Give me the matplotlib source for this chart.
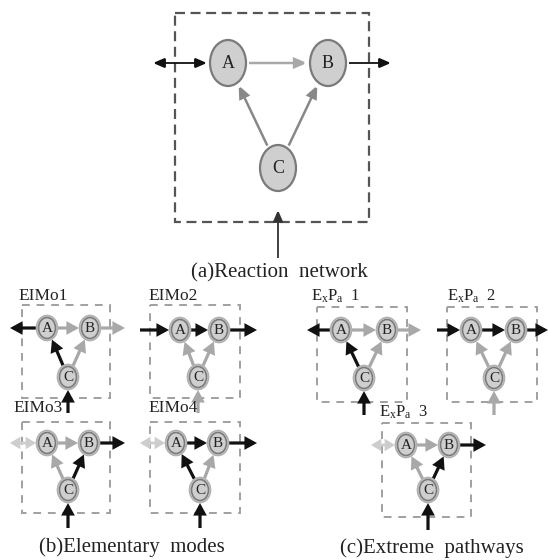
import matplotlib
matplotlib.use('Agg')
import matplotlib.pyplot as plt
from matplotlib.patches import Ellipse, FancyArrowPatch, Rectangle
import numpy as np

plt.rcParams['font.family'] = ['Liberation Serif', 'DejaVu Serif']
plt.rcParams['mathtext.fontset'] = 'custom'
plt.rcParams['mathtext.rm'] = 'Liberation Serif'
plt.rcParams['mathtext.it'] = 'Liberation Serif:italic'

# ---------------- data ----------------
node_names = ['A', 'B', 'C']
captions = ['(a)Reaction  network', '(b)Elementary  modes', '(c)Extreme  pathways']

mode_names = ['EIMo1', 'EIMo2', 'EIMo3', 'EIMo4',
              r'E$_\mathrm{x}$P$_\mathrm{a}$  1',
              r'E$_\mathrm{x}$P$_\mathrm{a}$  2',
              r'E$_\mathrm{x}$P$_\mathrm{a}$  3']
# direction of the exchange flux of A
left_dir = ['out', 'in', 'both', 'both', 'out', 'in', 'both']
# flux state of each reaction: k = active (black), g = inactive (gray), l = light
left_state = ['k', 'k', 'l', 'l', 'k', 'k', 'l']
ab_state = ['g', 'k', 'g', 'k', 'g', 'k', 'g']
right_state = ['g', 'k', 'k', 'k', 'g', 'k', 'k']
ca_state = ['k', 'g', 'g', 'k', 'k', 'g', 'g']
cb_state = ['g', 'g', 'k', 'g', 'g', 'g', 'k']
bottom_state = ['k', 'g', 'k', 'k', 'k', 'g', 'k']

# layout (pixel coordinates)
main_nodes = [(228, 63), (328, 63), (278, 168)]
main_box = (175, 13, 369, 222)
main_left_x, main_right_x, main_bottom_y = 153, 391, 258

small_A = [(47, 328), (180, 330), (47, 443), (176, 443), (341, 330), (471, 330), (406, 445)]
small_B = [(90, 328), (219, 330), (89, 443), (218, 443), (387, 330), (516, 330), (449, 445)]
small_C = [(68, 377), (198, 377), (68, 490), (200, 490), (364, 378), (494, 378), (428, 490)]
small_box = [(22, 305, 110, 398), (150, 305, 240, 398), (22, 422, 110, 513), (150, 422, 240, 513),
             (317, 307, 407, 402), (447, 307, 537, 402), (382, 423, 471, 517)]
small_left_x = [10, 140, 10, 140, 307, 437, 371]
small_right_x = [125, 257, 125, 257, 421, 548, 486]
small_bottom_y = [413, 413, 528, 528, 415, 415, 530]
label_xy = [(18, 296), (148, 296), (13, 408), (148, 408), (311, 296), (447, 296), (379, 412)]
caption_xy = [(279, 273), (132, 547), (432, 548)]

colors = {'k': '#111111', 'g': '#a8a8a8', 'l': '#cdcdcd'}

# ---------------- drawing ----------------
fig = plt.figure(figsize=(5.48, 5.60), dpi=100)
ax = fig.add_axes([0, 0, 1, 1])
ax.set_xlim(0, 548)
ax.set_ylim(560, 0)
ax.axis('off')


def boundary(c, rx, ry, d):
    d = np.asarray(d, float)
    d = d / np.hypot(*d)
    t = 1.0 / np.sqrt((d[0] / rx) ** 2 + (d[1] / ry) ** 2)
    return (c[0] + t * d[0], c[1] + t * d[1])


def arrow(p, q, color, lw, style, ms, z=3):
    a = FancyArrowPatch(p, q, arrowstyle=style, mutation_scale=ms, color=color,
                        lw=lw, shrinkA=0, shrinkB=0, zorder=z, joinstyle='miter',
                        capstyle='butt')
    ax.add_patch(a)


def node(c, rx, ry, name, fs, lw, halo=False):
    if halo:
        ax.add_patch(Ellipse(c, 2 * rx + 4, 2 * ry + 4, facecolor='#dcdcdc',
                             edgecolor='#b0b0b0', lw=1.2, zorder=4))
    ax.add_patch(Ellipse(c, 2 * rx, 2 * ry, facecolor='#cfcfcf', edgecolor='#7a7a7a',
                         lw=lw, zorder=5))
    ax.text(c[0], c[1] + 0.5, name, ha='center', va='center', fontsize=fs, color='#222222', zorder=6)


def box(b, color, lw, dash):
    l, t, r, bt = b
    ax.add_patch(Rectangle((l, t), r - l, bt - t, facecolor='none', edgecolor=color,
                           lw=lw, linestyle=(0, dash), zorder=2))


# main network
rx, ry = 18, 23
A, B, C = main_nodes
box(main_box, '#555555', 1.6, (4.5, 2.5))
gap = 3
thin = '-|>,head_length=0.7,head_width=0.3'
thin2 = '<|-|>,head_length=0.7,head_width=0.3'
arrow((main_left_x, A[1]), boundary(A, rx + gap, ry + gap, (-1, 0)), '#111111', 1.3, thin2, 10)
arrow(boundary(A, rx + gap, ry + gap, (1, 0)), boundary(B, rx + gap, ry + gap, (-1, 0)),
      '#a8a8a8', 1.8, thin, 10)
arrow(boundary(B, rx + gap, ry + gap, (1, 0)), (main_right_x, B[1]), '#111111', 1.3, thin, 10)
for tgt in (A, B):
    d = (tgt[0] - C[0], tgt[1] - C[1])
    arrow(boundary(C, rx + gap, ry + gap, d), boundary(tgt, rx + gap, ry + gap, (-d[0], -d[1])),
          '#888888', 1.8, thin, 10)
arrow((C[0], main_bottom_y), (C[0], main_box[3] - 12), '#333333', 1.3, thin, 10)
for c, n in zip(main_nodes, node_names):
    node(c, rx, ry, n, 13, 1.6)

# small diagrams
srx, sry = 8.5, 10.5
thick = '-|>,head_length=0.55,head_width=0.3'
thick2 = '<|-|>,head_length=0.5,head_width=0.3'
for i in range(len(mode_names)):
    A, B, C = small_A[i], small_B[i], small_C[i]
    box(small_box[i], '#a0a0a0', 1.4, (4, 3.5))
    g = 2.5
    # exchange of A
    pA = boundary(A, srx + g, sry + g, (-1, 0))
    col = colors[left_state[i]]
    if left_dir[i] == 'out':
        arrow(pA, (small_left_x[i], A[1]), col, 2.3, thick, 10)
    elif left_dir[i] == 'in':
        arrow((small_left_x[i], A[1]), pA, col, 2.3, thick, 10)
    else:
        arrow((small_left_x[i], A[1]), pA, col, 2.0, thick2, 9)
    # A -> B
    arrow(boundary(A, srx + g, sry + g, (1, 0)), boundary(B, srx + g, sry + g, (-1, 0)),
          colors[ab_state[i]], 2.3, thick, 10)
    # B -> out
    arrow(boundary(B, srx + g, sry + g, (1, 0)), (small_right_x[i], B[1]),
          colors[right_state[i]], 2.3, thick, 10)
    # C -> A, C -> B
    for tgt, st in ((A, ca_state[i]), (B, cb_state[i])):
        d = (tgt[0] - C[0], tgt[1] - C[1])
        arrow(boundary(C, srx + g, sry + g, d), boundary(tgt, srx + g, sry + g, (-d[0], -d[1])),
              colors[st], 2.3, thick, 10)
    # input to C
    arrow((C[0], small_bottom_y[i]), boundary(C, srx + g, sry + g, (0, 1)),
          colors[bottom_state[i]], 2.3, thick, 10)
    for c, n in zip((A, B, C), node_names):
        node(c, srx, sry, n, 11, 1.2, halo=True)
    fs = 12.5 if i < 4 else 12
    ax.text(label_xy[i][0], label_xy[i][1], mode_names[i], ha='left', va='center',
            fontsize=fs, color='#222222', zorder=7)

for (x, y), t in zip(caption_xy, captions):
    ax.text(x, y, t, ha='center', va='center', fontsize=15, color='#222222')

fig.savefig('out.png', dpi=100)
